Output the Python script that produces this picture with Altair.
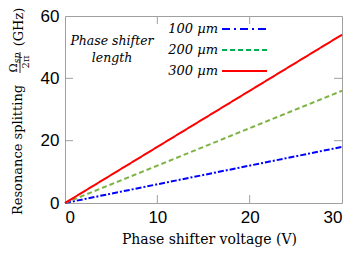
import altair as alt
import pandas as pd

# data
voltage = [0, 30]
series = ["100 µm", "200 µm", "300 µm"]
splitting_100 = [0, 18]
splitting_200 = [0, 36]
splitting_300 = [0, 54]
x_ticks = [0, 10, 20, 30]
y_ticks = [0, 20, 40, 60]
inner_x_ticks = [10, 20]
inner_y_ticks = [20, 40]

colors = ["#0000ff", "#7cb342", "#ff0000"]
legend_colors = ["#0000ff", "#00b050", "#ff0000"]
dashes = [[6, 2, 2, 2], [5, 3], [1, 0]]
legend_dashes = [[8, 4, 2, 4], [5, 3], [1, 0]]

W, H = 277, 187
SERIF = "DejaVu Serif"
SANS = "Liberation Sans"

rows = []
for name, vals in zip(series, [splitting_100, splitting_200, splitting_300]):
    for v, s in zip(voltage, vals):
        rows.append({"V": v, "S": s, "series": name})
df = pd.DataFrame(rows)

xs = alt.Scale(domain=[0, 30], nice=False)
ys = alt.Scale(domain=[0, 60], nice=False)

lines = alt.Chart(df).mark_line(strokeWidth=2).encode(
    x=alt.X("V:Q", scale=xs, axis=alt.Axis(
        values=x_ticks, ticks=False, domain=False, grid=False,
        labelFont=SANS, labelFontSize=17, labelColor="#000", labelPadding=6,
        title="Phase shifter voltage (V)", titleFont=SERIF, titleFontSize=14,
        titleFontWeight="normal", titleColor="#000", titlePadding=7, titleX=144)),
    y=alt.Y("S:Q", scale=ys, axis=alt.Axis(
        values=y_ticks, ticks=False, domain=False, grid=False,
        labelFont=SANS, labelFontSize=17, labelColor="#000", labelPadding=6,
        title=None)),
    color=alt.Color("series:N", scale=alt.Scale(domain=series, range=colors), legend=None),
    strokeDash=alt.StrokeDash("series:N", scale=alt.Scale(domain=series, range=dashes), legend=None),
)

tick_color = "#a0a0a0"
xt = pd.DataFrame({"V": inner_x_ticks})
yt = pd.DataFrame({"S": inner_y_ticks})
ticks = [
    alt.Chart(xt).mark_rule(color=tick_color).encode(x=alt.X("V:Q", scale=xs), y=alt.value(H), y2=alt.value(H - 8)),
    alt.Chart(xt).mark_rule(color=tick_color).encode(x=alt.X("V:Q", scale=xs), y=alt.value(0), y2=alt.value(8)),
    alt.Chart(yt).mark_rule(color=tick_color).encode(y=alt.Y("S:Q", scale=ys), x=alt.value(0), x2=alt.value(8)),
    alt.Chart(yt).mark_rule(color=tick_color).encode(y=alt.Y("S:Q", scale=ys), x=alt.value(W), x2=alt.value(W - 8)),
]

# legend (drawn manually: labels sit left of the line samples)
legend_layers = []
for i, name in enumerate(series):
    yy = 13 + 21 * i
    one = pd.DataFrame({"t": [name]})
    legend_layers.append(
        alt.Chart(one).mark_text(font=SERIF, fontSize=13, fontStyle="italic", align="right",
                                 baseline="middle", color="#000").encode(
            text="t:N", x=alt.value(153), y=alt.value(yy)))
    legend_layers.append(
        alt.Chart(one).mark_rule(color=legend_colors[i], strokeWidth=2.2,
                                 strokeDash=legend_dashes[i]).encode(
            x=alt.value(157), x2=alt.value(202), y=alt.value(yy)))
legend_title = [
    alt.Chart(pd.DataFrame({"t": ["Phase shifter"]})).mark_text(
        font=SERIF, fontSize=12.5, fontStyle="italic", align="center", baseline="middle", color="#000"
    ).encode(text="t:N", x=alt.value(47), y=alt.value(25)),
    alt.Chart(pd.DataFrame({"t": ["length"]})).mark_text(
        font=SERIF, fontSize=12.5, fontStyle="italic", align="center", baseline="middle", color="#000"
    ).encode(text="t:N", x=alt.value(47), y=alt.value(42)),
]

# y-axis title with fraction
def ytext(t, x, y, size, style="normal"):
    return alt.Chart(pd.DataFrame({"t": [t]})).mark_text(
        font=SERIF, fontSize=size, fontStyle=style, angle=270, align="center",
        baseline="middle", color="#000").encode(text="t:N", x=alt.value(x), y=alt.value(y))

ytitle = [
    ytext("Resonance splitting", -47, 134, 13),
    ytext("(GHz)", -46, 11, 13),
    ytext("Ω", -51, 52, 11),
    ytext("sp", -48.5, 42, 9, "italic"),
    ytext("2π", -39.5, 46, 10),
    alt.Chart(pd.DataFrame({"t": [0]})).mark_rule(color="#000", strokeWidth=0.8).encode(
        x=alt.value(-45), y=alt.value(36), y2=alt.value(57)),
]

chart = alt.layer(lines, *ticks, *legend_layers, *legend_title, *ytitle).properties(
    width=W, height=H,
    autosize=alt.AutoSizeParams(type="none"),
    padding={"left": 57, "top": 8, "right": 5, "bottom": 50},
).configure_view(stroke="#a0a0a0", strokeWidth=1)

chart.save("out.html", embed_options={"renderer": "svg", "actions": False})
